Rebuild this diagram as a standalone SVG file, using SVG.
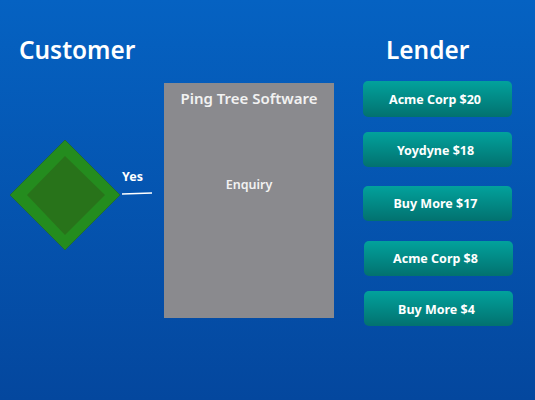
<svg xmlns="http://www.w3.org/2000/svg" width="535" height="400" viewBox="0 0 535 400">
  <defs>
    <linearGradient id="bg" x1="0" y1="0" x2="0" y2="1">
      <stop offset="0" stop-color="#0562c2"/>
      <stop offset="1" stop-color="#04479e"/>
    </linearGradient>
    <linearGradient id="teal" x1="0" y1="0" x2="0" y2="1">
      <stop offset="0" stop-color="#02a29c"/>
      <stop offset="1" stop-color="#02716f"/>
    </linearGradient>
    <style>
      .title { font-family: "Noto Sans", "DejaVu Sans", sans-serif; font-size: 24.4px; font-weight: 600; fill: #ffffff; }
      .lender rect { fill: url(#teal); }
      .lender text { font-family: "Noto Sans", "DejaVu Sans", sans-serif; font-size: 12.5px; font-weight: bold; fill: #ffffff; text-anchor: middle; }
      .label { font-family: "Noto Sans", "DejaVu Sans", sans-serif; fill: #f2f2f2; text-anchor: middle; font-weight: 600; }
    </style>
  </defs>

  <rect x="0" y="0" width="535" height="400" fill="url(#bg)"/>

  <text class="title" x="19" y="59">Customer</text>
  <text class="title" x="386" y="59">Lender</text>

  <!-- customer decision -->
  <g id="customer">
    <polygon points="65,140 120,195 65,250 10,195" fill="#248c1e" stroke="#1c6a3a" stroke-width="1"/>
    <polygon points="65,156 105,195 65,235 27,195" fill="#28731a"/>
  </g>

  <!-- ping tree box -->
  <g id="pingtree">
    <rect x="164" y="83" width="170" height="235" fill="#8a8a8e"/>
    <text class="label" x="249" y="104" font-size="15">Ping Tree Software</text>
    <text class="label" x="249" y="189" font-size="12.5">Enquiry</text>
  </g>

  <!-- lenders -->
  <g id="lender1" class="lender">
    <rect x="363" y="81" width="149" height="36" rx="5"/>
    <text x="435" y="104">Acme Corp $20</text>
  </g>
  <g id="lender2" class="lender">
    <rect x="363" y="132" width="149" height="35" rx="5"/>
    <text x="435.5" y="155">Yoydyne $18</text>
  </g>
  <g id="lender3" class="lender">
    <rect x="363" y="186" width="149" height="35" rx="5"/>
    <text x="435.5" y="208">Buy More $17</text>
  </g>
  <g id="lender4" class="lender">
    <rect x="364" y="241" width="149" height="35" rx="5"/>
    <text x="435.5" y="263">Acme Corp $8</text>
  </g>
  <g id="lender5" class="lender">
    <rect x="364" y="291" width="149" height="35" rx="5"/>
    <text x="436.5" y="314">Buy More $4</text>
  </g>

  <!-- connectors -->
  <g id="connectors">
    <line x1="122" y1="194" x2="152" y2="193" stroke="#ffffff" stroke-width="1.5"/>
    <text x="122" y="181" font-family="Noto Sans, DejaVu Sans, sans-serif" font-size="12.5" font-weight="bold" fill="#ffffff">Yes</text>
  </g>
</svg>
